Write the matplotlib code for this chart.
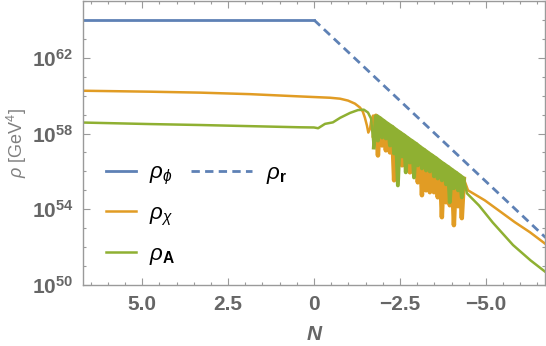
import matplotlib
matplotlib.use('Agg')
from matplotlib import pyplot as plt
from matplotlib.ticker import FixedLocator, MultipleLocator, NullFormatter
from matplotlib.lines import Line2D
from matplotlib.legend_handler import HandlerLine2D
import numpy as np

plt.rcParams['font.family'] = ['Liberation Sans', 'DejaVu Sans']
plt.rcParams['mathtext.fontset'] = 'custom'
plt.rcParams['mathtext.rm'] = 'Liberation Sans'
plt.rcParams['mathtext.it'] = 'Liberation Sans:italic'
plt.rcParams['mathtext.bf'] = 'Liberation Sans:bold'

# e-folds N and log10(rho / GeV^4)
N_phi = [6.72, 0.0]
L_phi = [64.0, 64.0]
N_r = [0.0, -6.74]
L_r = [64.0, 52.5]

N_chi_pre = [6.72, 4.77, 3.31, 1.86, 0.41, -0.47, -0.76, -0.99, -1.19, -1.34,
             -1.42, -1.48, -1.54, -1.58, -1.63, -1.66, -1.72]
L_chi_pre = [60.26, 60.21, 60.16, 60.08, 59.96, 59.89, 59.84, 59.74, 59.58, 59.37,
             59.16, 58.84, 58.42, 58.05, 58.26, 58.63, 58.95]

N_A_pre = [6.72, 4.77, 3.31, 1.86, 0.41, 0.0, -0.12, -0.32, -0.55, -0.76,
           -1.05, -1.28, -1.45, -1.57, -1.66]
L_A_pre = [58.58, 58.50, 58.45, 58.39, 58.33, 58.32, 58.28, 58.51, 58.59, 58.83,
           59.09, 59.24, 59.26, 59.11, 58.79]

# oscillating stretch (alternating dips and peaks)
N_band = [-1.74, -1.80, -1.86, -1.92, -1.98, -2.03, -2.09, -2.15, -2.21, -2.27,
          -2.33, -2.38, -2.44, -2.50, -2.56, -2.62, -2.67, -2.73, -2.79, -2.85,
          -2.91, -2.97, -3.02, -3.08, -3.14, -3.20, -3.26, -3.31, -3.37, -3.43,
          -3.49, -3.55, -3.60, -3.66, -3.72, -3.78, -3.84, -3.90, -3.95, -4.01,
          -4.07, -4.13, -4.19, -4.24, -4.30, -4.36]
L_chi_band = [57.89, 58.94, 56.84, 58.79, 57.37, 58.64, 57.11, 58.48, 57.00, 58.34,
              55.53, 58.18, 56.58, 58.03, 56.32, 57.88, 56.26, 57.73, 55.95, 57.58,
              55.90, 57.43, 55.42, 57.27, 54.74, 57.12, 55.00, 56.97, 54.90, 56.82,
              54.90, 56.67, 54.63, 56.51, 53.58, 56.36, 54.37, 56.21, 54.21, 56.06,
              53.16, 55.91, 54.16, 55.76, 53.53, 55.60]
L_A_band = [57.26, 58.91, 57.63, 58.76, 57.79, 58.61, 57.74, 58.45, 57.37, 58.31,
            56.95, 58.15, 55.26, 58.00, 56.79, 57.85, 55.95, 57.70, 56.47, 57.55,
            55.68, 57.40, 56.32, 57.24, 56.16, 57.09, 56.05, 56.94, 56.00, 56.79,
            55.74, 56.64, 55.63, 56.48, 55.53, 56.33, 55.32, 56.18, 54.37, 56.03,
            55.11, 55.88, 55.00, 55.73, 54.63, 55.57]

N_chi_post = [-4.48, -4.97, -5.41, -5.84, -6.28, -6.74]
L_chi_post = [55.00, 54.47, 53.89, 53.32, 52.79, 52.16]
N_A_post = [-4.45, -4.80, -5.20, -5.79, -6.30, -6.74]
L_A_post = [54.84, 54.20, 53.30, 52.11, 51.30, 50.68]

x_ticks = [5.0, 2.5, 0.0, -2.5, -5.0]
x_ticklabels = ['5.0', '2.5', '0', '\u22122.5', '\u22125.0']
y_exps = [50, 54, 58, 62]

N_chi = np.array(N_chi_pre + N_band + N_chi_post)
L_chi = np.array(L_chi_pre + L_chi_band + L_chi_post)
N_A = np.array(N_A_pre + N_band + N_A_post)
L_A = np.array(L_A_pre + L_A_band + L_A_post)


class LongLineHandler(HandlerLine2D):
    # longer legend sample, reaching further to the left
    def create_artists(self, legend, orig_handle, xdescent, ydescent, width, height, fontsize, trans):
        extra = 1.05 * width
        return super().create_artists(legend, orig_handle, xdescent + extra, ydescent,
                                      width + extra, height, fontsize, trans)


c_blue = '#5e81b5'
c_orange = '#e19c24'
c_green = '#8fb032'
c_frame = '#9a9a9a'
c_text = '#666666'

fig = plt.figure(figsize=(5.46, 3.46), dpi=100)
ax = fig.add_axes([83/546, 61/346, 462/546, 284/346])

ax.plot(N_phi, 10.0**np.array(L_phi), color=c_blue, lw=2, label=r'$\rho_\phi$')
ax.plot(N_chi, 10.0**L_chi, color=c_orange, lw=1.8, label=r'$\rho_\chi$')
ax.plot(N_band, 10.0**np.array(L_chi_band), color=c_orange, lw=3.2)
ax.plot(N_A, 10.0**L_A, color=c_green, lw=1.8, label=r'$\rho_\mathbf{A}$')
ax.plot(N_band, 10.0**np.array(L_A_band), color=c_green, lw=2.8)
ax.plot(N_band[1::2], 10.0**np.array(L_A_band[1::2]), color=c_green, lw=4,
        solid_capstyle='butt')
ax.plot(N_r, 10.0**np.array(L_r), color=c_blue, lw=2, ls=(0, (3.0, 1.9)), label=r'$\rho_\mathbf{r}$')

ax.set_yscale('log')
ax.set_xlim(6.72, -6.72)
ax.set_ylim(1e50, 1e65)

ax.xaxis.set_major_locator(FixedLocator(x_ticks))
ax.set_xticklabels(x_ticklabels)
ax.xaxis.set_minor_locator(MultipleLocator(0.5))
ax.yaxis.set_major_locator(FixedLocator([10.0**e for e in y_exps]))
ax.set_yticklabels([r'$\mathbf{10^{%d}}$' % e for e in y_exps])
ax.yaxis.set_minor_locator(FixedLocator([10.0**e for e in range(50, 66)]))
ax.yaxis.set_minor_formatter(NullFormatter())

ax.tick_params(which='both', direction='in', top=True, right=True, color=c_frame,
               labelcolor=c_text, width=0.8)
ax.tick_params(which='major', length=5, labelsize=15, pad=7)
ax.tick_params(which='minor', length=2.5)
for lab in ax.get_xticklabels():
    lab.set_fontweight('bold')
for s in ax.spines.values():
    s.set_color(c_frame)
    s.set_linewidth(1)

ax.set_xlabel('N', fontsize=15, color=c_text, fontweight='bold', fontstyle='italic', labelpad=8)
ax.set_ylabel(r'$\rho$ [GeV$^4$]', fontsize=13, color='#808080', labelpad=2)

# legend: phi, chi, A in first column, r alone in second
handles, labels = ax.get_legend_handles_labels()
blank = Line2D([], [], lw=0)
ax.legend(handles + [blank, blank], labels + ['', ''], ncol=2,
          loc='upper left', bbox_to_anchor=(0.026, 0.47), frameon=False,
          fontsize=16, handlelength=1.35, handletextpad=0.6, labelspacing=0.72,
          columnspacing=2.1, borderpad=0,
          handler_map={handles[3]: LongLineHandler()})

fig.savefig('out.png', dpi=100)
